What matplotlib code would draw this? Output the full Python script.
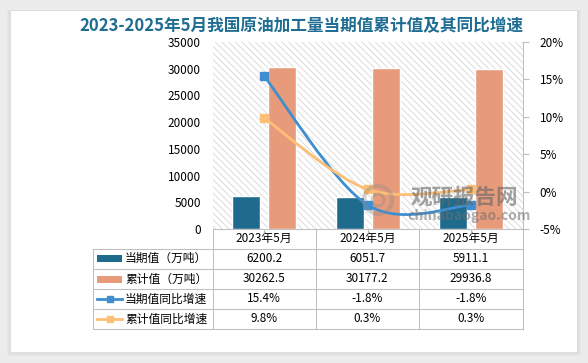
import matplotlib
matplotlib.use("Agg")
import matplotlib.pyplot as plt
import numpy as np
from matplotlib.patches import Rectangle, PathPatch, Circle
from matplotlib.path import Path

plt.rcParams["font.family"] = ["Noto Sans CJK SC", "DejaVu Sans"]
plt.rcParams["hatch.linewidth"] = 0.6
plt.rcParams["hatch.color"] = "#d6d6d6"

# data
categories = ["2023年5月", "2024年5月", "2025年5月"]
current_vals = [6200.2, 6051.7, 5911.1]
cumulative_vals = [30262.5, 30177.2, 29936.8]
current_yoy = [15.4, -1.8, -1.8]
cumulative_yoy = [9.8, 0.3, 0.3]
series_names = ["当期值（万吨）", "累计值（万吨）", "当期值同比增速", "累计值同比增速"]
title = "2023-2025年5月我国原油加工量当期值累计值及其同比增速"

C_CUR = "#1e6b8e"
C_CUM = "#e79b7b"
C_LCUR = "#3f8fd0"
C_LCUM = "#fdbf76"
GRID = "#bfbfbf"

W, H = 588, 363
FS = 8.5


def fx(px):
    return px / W


def fy(py):
    return 1 - py / H


def smooth_path(xs, ys):
    # Excel style smoothing: cubic bezier, control points from neighbours / 6
    pts = np.column_stack([xs, ys]).astype(float)
    n = len(pts)
    verts = [pts[0]]
    codes = [Path.MOVETO]
    for i in range(n - 1):
        p0 = pts[i - 1] if i > 0 else pts[i]
        p1, p2 = pts[i], pts[i + 1]
        p3 = pts[i + 2] if i + 2 < n else pts[i + 1]
        verts += [p1 + (p2 - p0) / 6, p2 - (p3 - p1) / 6, p2]
        codes += [Path.CURVE4] * 3
    return Path(verts, codes)


fig = plt.figure(figsize=(W / 100, H / 100), dpi=100, facecolor="#ececec")

# background card + table
bg = fig.add_axes([0, 0, 1, 1])
bg.set_xlim(0, W)
bg.set_ylim(H, 0)
bg.axis("off")
for k, a in enumerate([0.05, 0.05, 0.06]):
    bg.add_patch(Rectangle((11 - 2 - k, 11 - 1), 566 + 4 + 2 * k, 341 + 3 + k,
                           facecolor="#9a9a9a", alpha=a, lw=0))
bg.add_patch(Rectangle((11, 11), 566, 341, facecolor="white", lw=0))

bg.text(301, 26, title, ha="center", va="center", fontsize=12,
        fontweight="bold", color="#1f6d92")

# table geometry
col_edges = [212.6, 315.6, 419.0, 523.0]
row_edges = [229, 248.5, 269, 289, 309, 329]
left_edge = 92.6
lw_px = 0.75
bg.plot([col_edges[0], col_edges[-1]], [row_edges[0], row_edges[0]], color=GRID, lw=lw_px)
for y in row_edges[1:]:
    bg.plot([left_edge, col_edges[-1]], [y, y], color=GRID, lw=lw_px)
bg.plot([left_edge, left_edge], [row_edges[1], row_edges[-1]], color=GRID, lw=lw_px)
for x in col_edges:
    bg.plot([x, x], [row_edges[0], row_edges[-1]], color=GRID, lw=lw_px)

col_centers = [(col_edges[i] + col_edges[i + 1]) / 2 for i in range(3)]
for xc, cat in zip(col_centers, categories):
    bg.text(xc, (row_edges[0] + row_edges[1]) / 2, cat, ha="center", va="center", fontsize=FS)

rows = [
    [f"{v:.1f}" for v in current_vals],
    [f"{v:.1f}" for v in cumulative_vals],
    [f"{v:.1f}%" for v in current_yoy],
    [f"{v:.1f}%" for v in cumulative_yoy],
]
for r, (name, vals) in enumerate(zip(series_names, rows)):
    yc = (row_edges[r + 1] + row_edges[r + 2]) / 2
    if r == 0:
        bg.add_patch(Rectangle((97, yc - 3.5), 25, 7, facecolor=C_CUR, lw=0))
    elif r == 1:
        bg.add_patch(Rectangle((97, yc - 3.5), 25, 7, facecolor=C_CUM, lw=0))
    else:
        c = C_LCUR if r == 2 else C_LCUM
        bg.plot([97, 122], [yc, yc], color=c, lw=2)
        bg.plot([109.5], [yc], marker="s", ms=5, color=c, mec=c)
    bg.text(125, yc, name, ha="left", va="center", fontsize=FS)
    for xc, v in zip(col_centers, vals):
        bg.text(xc, yc, v, ha="center", va="center", fontsize=FS)

# main plot
ax = fig.add_axes([fx(212.6), fy(229), fx(523 - 212.6), (229 - 42) / H])
ax.set_facecolor("none")
ax.add_patch(Rectangle((0, 0), 1, 1, transform=ax.transAxes, facecolor="white",
                       hatch="\\\\\\\\\\", edgecolor="#d6d6d6", lw=0, zorder=0))
x = np.arange(len(categories))
bw = 0.27
ax.bar(x - 0.175, current_vals, bw, color=C_CUR, edgecolor="white", lw=1, zorder=2)
ax.bar(x + 0.175, cumulative_vals, bw, color=C_CUM, edgecolor="white", lw=1, zorder=2)
ax.set_xlim(-0.5, len(categories) - 0.5)
ax.set_ylim(0, 35000)
ax.set_yticks(np.arange(0, 35001, 5000))
ax.tick_params(axis="y", length=0, labelsize=FS, pad=8.5)
ax.set_xticks(x)
ax.set_xticklabels([])
ax.tick_params(axis="x", length=3, color=GRID, direction="out")
for s in ["left", "top", "right", "bottom"]:
    ax.spines[s].set_visible(False)

ax2 = ax.twinx()
ax2.set_ylim(-5, 20)
ax2.set_yticks(np.arange(-5, 21, 5))
ax2.set_yticklabels([f"{v}%" for v in range(-5, 21, 5)])
ax2.tick_params(axis="y", length=4, color=GRID, labelsize=FS, pad=8)
for s in ["left", "top", "bottom"]:
    ax2.spines[s].set_visible(False)
ax2.spines["right"].set_color(GRID)
ax2.spines["right"].set_linewidth(0.75)

for vals, c in [(current_yoy, C_LCUR), (cumulative_yoy, C_LCUM)]:
    ax2.add_patch(PathPatch(smooth_path(x, vals), facecolor="none", edgecolor=c,
                            lw=2, zorder=3, capstyle="round"))
    ax2.plot(x, vals, linestyle="none", marker="s", ms=6, color=c, zorder=4)

# watermark
wm = fig.add_axes([0, 0, 1, 1], facecolor="none")
wm.set_xlim(0, W)
wm.set_ylim(H, 0)
wm.axis("off")
wm.add_patch(Circle((378, 200), 14, facecolor="none", edgecolor="#8a8a8a",
                    lw=3, alpha=0.35))
wm.add_patch(Circle((378, 200), 6, facecolor="none", edgecolor="#8a8a8a",
                    lw=2, alpha=0.35))
wm.text(411, 197, "观研报告网", ha="left", va="center", fontsize=15.5,
        fontweight="bold", color="#666666", alpha=0.6)
wm.text(407, 216, "chinabaogao.com", ha="left", va="center", fontsize=10,
        fontweight="bold", color="#6e6e6e", alpha=0.55)

fig.savefig("out.png", dpi=100, facecolor=fig.get_facecolor())
